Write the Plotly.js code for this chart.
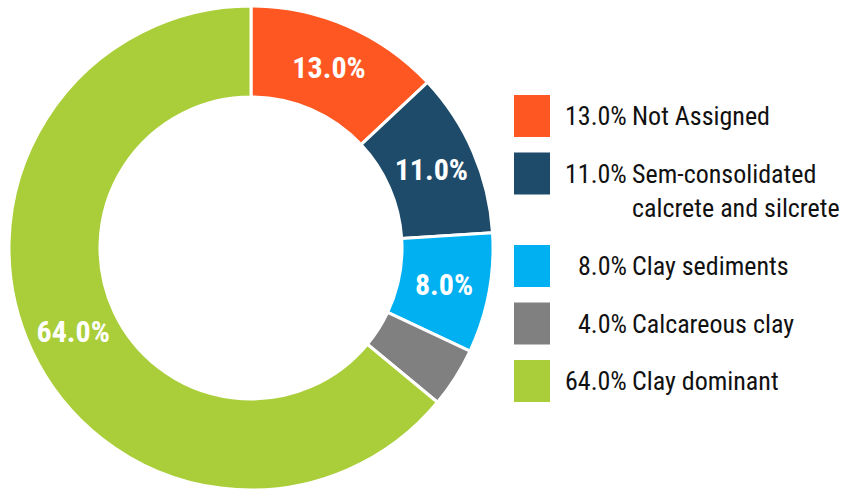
<!DOCTYPE html>
<html>
<head>
<meta charset="utf-8">
<script src="https://cdn.plot.ly/plotly-3.0.1.min.js"></script>
<style>html,body{margin:0;padding:0;background:#fff;}#chart{width:853px;height:491px;}</style>
</head>
<body>
<div id="chart"></div>
<script>
// Data
var categories = ["Not Assigned", "Sem-consolidated<br>calcrete and silcrete", "Clay sediments", "Calcareous clay", "Clay dominant"];
var values = [13.0, 11.0, 8.0, 4.0, 64.0];
var colors = ["#FF5722", "#1F4B6A", "#00B0F0", "#808080", "#AACE39"];
var showSliceLabel = [true, true, true, false, true];

var W = 853, H = 491;
var FONT = "'Liberation Sans Narrow', 'Arial Narrow', 'Roboto Condensed', 'Liberation Sans', Arial, sans-serif";
function px(x) { return x / W; }
function py(y) { return 1 - y / H; }

var total = values.reduce(function (a, b) { return a + b; }, 0);
var pctText = values.map(function (v) { return (v / total * 100).toFixed(1) + "%"; });

var trace = {
  type: "pie",
  values: values,
  labels: categories,
  text: pctText,
  texttemplate: showSliceLabel.map(function (s) { return s ? "%{text}" : ""; }),
  textposition: showSliceLabel.map(function (s) { return s ? "inside" : "none"; }),
  insidetextorientation: "horizontal",
  textfont: { family: FONT, size: 30, color: "#ffffff", weight: "bold" },
  marker: { colors: colors, line: { color: "#ffffff", width: 3 } },
  hole: 0.624,
  sort: false,
  direction: "clockwise",
  rotation: 0,
  showlegend: false,
  hoverinfo: "label+percent",
  domain: { x: [px(9), px(493)], y: [py(490), py(6)] }
};

// Custom legend built from the data arrays
var shapes = [], annotations = [];
var rowStep = 57.5, extraLine = 35, y = 116;
for (var i = 0; i < categories.length; i++) {
  var lines = categories[i].split("<br>").length;
  shapes.push({
    type: "rect", xref: "paper", yref: "paper",
    x0: px(514), x1: px(550), y0: py(y + 21), y1: py(y - 21),
    fillcolor: colors[i], line: { width: 0 }
  });
  annotations.push({
    xref: "paper", yref: "paper", x: px(629), y: py(y),
    xanchor: "right", yanchor: "middle", showarrow: false,
    text: pctText[i], font: { family: FONT, size: 26, color: "#111111" }
  });
  annotations.push({
    xref: "paper", yref: "paper", x: px(630), y: py(y - 17),
    xanchor: "left", yanchor: "top", align: "left", showarrow: false,
    text: categories[i], font: { family: FONT, size: 26, color: "#111111" }
  });
  y += rowStep + (lines - 1) * extraLine;
}

var layout = {
  width: W, height: H,
  margin: { l: 0, r: 0, t: 0, b: 0 },
  paper_bgcolor: "#ffffff",
  plot_bgcolor: "#ffffff",
  showlegend: false,
  shapes: shapes,
  annotations: annotations
};

Plotly.newPlot("chart", [trace], layout, { displayModeBar: false, staticPlot: true });
</script>
</body>
</html>
